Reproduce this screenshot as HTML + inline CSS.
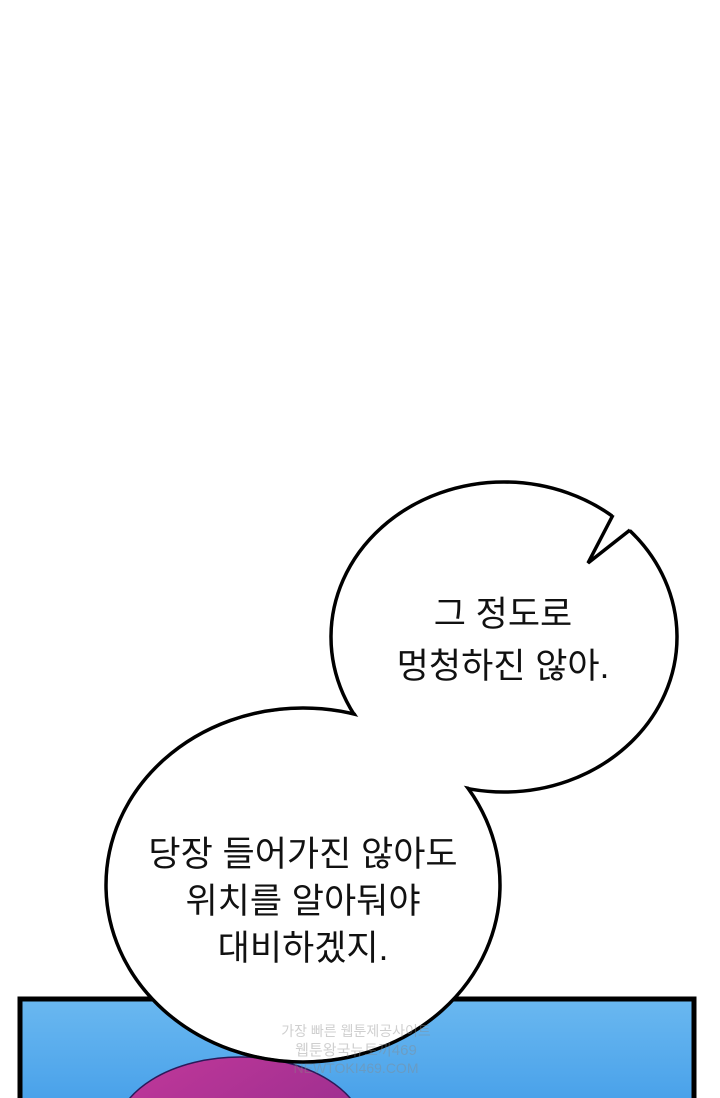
<!DOCTYPE html>
<html><head><meta charset="utf-8"><style>
html,body{margin:0;padding:0;background:#fff;}
body{width:720px;height:1098px;overflow:hidden;position:relative;}
svg{position:absolute;left:0;top:0;display:block;}
text{font-family:"Liberation Sans","Noto Sans CJK KR",sans-serif;font-size:35px;fill:#111;text-anchor:middle;}
</style></head><body>
<svg width="720" height="1098" viewBox="0 0 720 1098">
<defs>
<linearGradient id="sky" x1="0" y1="0" x2="0" y2="1">
<stop offset="0" stop-color="#6ab8f0"/><stop offset="1" stop-color="#4aa2ea"/>
</linearGradient>
<linearGradient id="hair" x1="0" y1="0" x2="1" y2="1">
<stop offset="0" stop-color="#c2389a"/><stop offset="1" stop-color="#8a2a8a"/>
</linearGradient>
</defs>
<rect x="20" y="999" width="674" height="99" fill="url(#sky)"/>
<path d="M20,1098 L20,999 L694,999 L694,1098" fill="none" stroke="#000" stroke-width="5"/>
<ellipse cx="240" cy="1135" rx="125" ry="78" fill="url(#hair)" stroke="#2a1a5a" stroke-width="1.5"/>
<ellipse cx="504" cy="637" rx="173" ry="155" fill="#fff" stroke="#000" stroke-width="3.5"/>
<ellipse cx="303" cy="885" rx="197" ry="177" fill="#fff" stroke="#000" stroke-width="3.5"/>
<ellipse cx="504" cy="637" rx="171" ry="153" fill="#fff"/>
<ellipse cx="303" cy="885" rx="195" ry="175" fill="#fff"/>
<path d="M613,515 L616,508 L638,522 L630,530 L588,563 Z" fill="#fff"/>
<path d="M613,515 L588,563 L630,530" fill="none" stroke="#000" stroke-width="3.5" stroke-linejoin="miter"/>
<text x="503" y="626">그 정도로</text>
<text x="503" y="678">멍청하진 않아.</text>
<text x="303" y="866">당장 들어가진 않아도</text>
<text x="303" y="913">위치를 알아둬야</text>
<text x="303" y="960">대비하겠지.</text>
<g opacity="0.4">
<text x="356" y="1036" style="font-size:14px;fill:#888">가장 빠른 웹툰제공사이트</text>
<text x="356" y="1055" style="font-size:15px;fill:#888">웹툰왕국뉴토끼469</text>
<text x="356" y="1073" style="font-size:14px;fill:#888">NEWTOKI469.COM</text>
</g>
</svg>
</body></html>
